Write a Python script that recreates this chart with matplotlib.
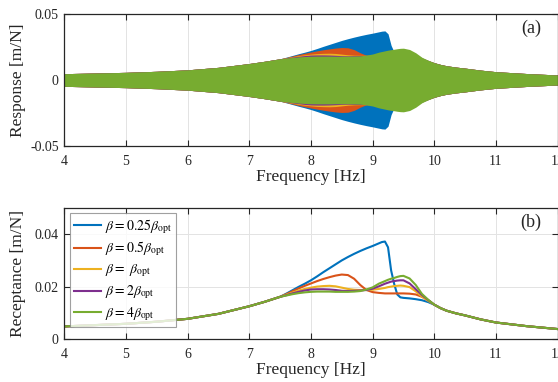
import numpy as np
import matplotlib
matplotlib.use("Agg")
import matplotlib.pyplot as plt

plt.rcParams["font.family"] = ["Liberation Serif", "DejaVu Serif"]
plt.rcParams["mathtext.fontset"] = "stix"

# Shared low-frequency branch (all damping ratios coincide here)
freq_low = [4.0, 4.5, 5.0, 5.5, 6.0, 6.5, 7.0, 7.25]
rec_low = [0.0048, 0.0053, 0.0058, 0.0066, 0.0077, 0.0096, 0.0125, 0.0142]

# Resonance region, one curve per damping setting
freq_mid = [7.5, 7.6, 7.7, 7.8, 7.9, 8.0, 8.1, 8.2, 8.3, 8.4, 8.5, 8.6, 8.7,
            8.8, 8.9, 9.0, 9.1, 9.15, 9.2, 9.25, 9.3, 9.35, 9.4, 9.45, 9.5,
            9.6, 9.7, 9.8, 9.9]
rec_b025 = [0.0161, 0.0173, 0.0186, 0.0199, 0.0211, 0.0224, 0.0239, 0.0255,
            0.0270, 0.0285, 0.0300, 0.0313, 0.0325, 0.0336, 0.0346, 0.0355,
            0.0365, 0.0370, 0.0372, 0.0350, 0.0262, 0.0210, 0.0170, 0.0159,
            0.0157, 0.0155, 0.0152, 0.0148, 0.0141]
rec_b05 = [0.0161, 0.0171, 0.0182, 0.0193, 0.0203, 0.0212, 0.0221, 0.0229,
           0.0236, 0.0242, 0.0246, 0.0244, 0.0230, 0.0206, 0.0187, 0.0179,
           0.0176, 0.0175, 0.0174, 0.0174, 0.0174, 0.0174, 0.0174, 0.0174,
           0.0174, 0.0173, 0.0170, 0.0161, 0.0148]
rec_b1 = [0.0161, 0.0169, 0.0177, 0.0185, 0.0191, 0.0196, 0.0200, 0.0202,
          0.0203, 0.0201, 0.0196, 0.0191, 0.0188, 0.0187, 0.0187, 0.0188,
          0.0191, 0.0193, 0.0195, 0.0198, 0.0200, 0.0202, 0.0203, 0.0204,
          0.0203, 0.0198, 0.0182, 0.0162, 0.0146]
rec_b2 = [0.0161, 0.0167, 0.0174, 0.0180, 0.0185, 0.0189, 0.0190, 0.0190,
          0.0189, 0.0187, 0.0184, 0.0183, 0.0184, 0.0185, 0.0187, 0.0192,
          0.0201, 0.0206, 0.0211, 0.0215, 0.0219, 0.0221, 0.0223, 0.0224,
          0.0224, 0.0212, 0.0190, 0.0168, 0.0149]
rec_b4 = [0.0161, 0.0166, 0.0171, 0.0175, 0.0178, 0.0180, 0.0181, 0.0181,
          0.0181, 0.0180, 0.0180, 0.0180, 0.0181, 0.0183, 0.0189, 0.0197,
          0.0211, 0.0216, 0.0221, 0.0226, 0.0230, 0.0233, 0.0237, 0.0240,
          0.0241, 0.0231, 0.0206, 0.0172, 0.0150]

# Shared high-frequency branch
freq_high = [10.0, 10.1, 10.2, 10.35, 10.5, 10.75, 11.0, 11.5, 12.0]
rec_high = [0.0131, 0.0118, 0.0108, 0.0098, 0.0090, 0.0075, 0.0063, 0.0049,
            0.0038]

labels = [r"$\beta = 0.25\beta_{\rm opt}$", r"$\beta = 0.5\beta_{\rm opt}$",
          r"$\beta = \ \beta_{\rm opt}$", r"$\beta = 2\beta_{\rm opt}$",
          r"$\beta = 4\beta_{\rm opt}$"]
colors = ["#0072BD", "#D95319", "#EDB120", "#7E2F8E", "#77AC30"]
series_mid = [rec_b025, rec_b05, rec_b1, rec_b2, rec_b4]

freq = np.concatenate([freq_low, freq_mid, freq_high])
curves = [np.concatenate([rec_low, s, rec_high]) for s in series_mid]

W, H = 558, 382
fig = plt.figure(figsize=(W / 100, H / 100), dpi=100)
left = 64.3 / W
width = (557.6 - 64.3) / W
ax1 = fig.add_axes([left, (H - 146) / H, width, 132 / H])
ax2 = fig.add_axes([left, (H - 339) / H, width, 131 / H])

txt_col = "#262626"
for ax in (ax1, ax2):
    ax.set_xlim(4, 12)
    ax.set_xticks(range(4, 13))
    ax.set_xticklabels([str(v) for v in range(4, 13)])
    ax.grid(True, color="#e3e3e3", linewidth=0.7)
    ax.set_axisbelow(True)
    ax.tick_params(direction="in", top=True, right=True, length=4,
                   width=0.8, labelsize=10, colors=txt_col)
    ax.tick_params(axis="x", pad=6.5)
    ax.tick_params(axis="y", pad=4)
    for sp in ax.spines.values():
        sp.set_linewidth(0.9)
        sp.set_color(txt_col)
    ax.set_xlabel("Frequency [Hz]", fontsize=12.5, color=txt_col)
    ax.xaxis.set_label_coords(0.5, -0.175)

# (a) swept time response, drawn as its envelope
for c, col in zip(curves, colors):
    ax1.fill_between(freq, -c, c, color=col, linewidth=0)
ax1.set_ylim(-0.05, 0.05)
ax1.set_yticks([-0.05, 0, 0.05])
ax1.set_yticklabels(["-0.05", "0", "0.05"])
ax1.set_ylabel("Response [m/N]", fontsize=12.5, color=txt_col)
ax1.yaxis.set_label_coords(-0.077, 0.5)
ax1.text(0.946, 0.89, "(a)", transform=ax1.transAxes, fontsize=13,
         ha="center", va="center", color=txt_col)

# (b) receptance curves
for c, col, lab in zip(curves, colors, labels):
    ax2.plot(freq, c, color=col, linewidth=1.5, label=lab)
ax2.set_ylim(0, 0.05)
ax2.set_yticks([0, 0.02, 0.04])
ax2.set_yticklabels(["0", "0.02", "0.04"])
ax2.set_ylabel("Receptance [m/N]", fontsize=12.5, color=txt_col)
ax2.yaxis.set_label_coords(-0.077, 0.5)
ax2.text(0.946, 0.89, "(b)", transform=ax2.transAxes, fontsize=13,
         ha="center", va="center", color=txt_col)
leg = ax2.legend(loc="upper left", bbox_to_anchor=(0.005, 0.985),
                 fontsize=10, frameon=True, fancybox=False, handlelength=2.0,
                 handletextpad=0.25, labelspacing=0.3, borderpad=0.3,
                 borderaxespad=0.2)
leg.get_frame().set_edgecolor("#888888")
leg.get_frame().set_linewidth(0.8)

fig.savefig("out.png", dpi=100)
